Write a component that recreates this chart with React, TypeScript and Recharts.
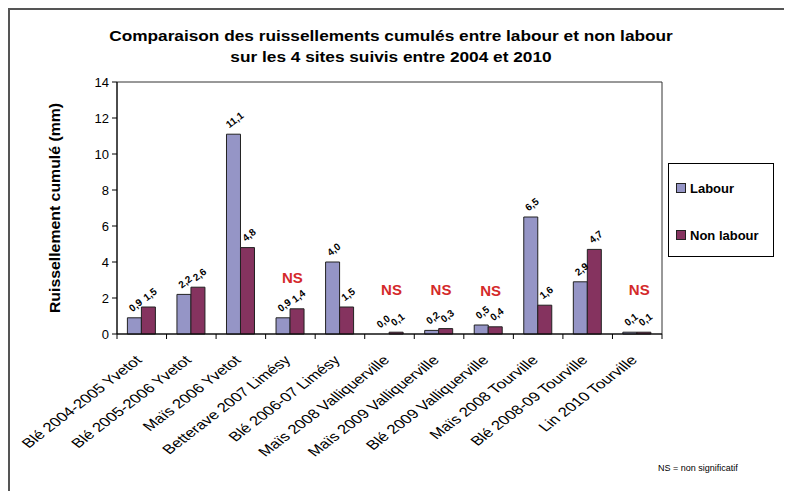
import { ComposedChart, Bar, Line, XAxis, YAxis, Legend, LabelList, ReferenceArea } from "recharts";

const FONT = "'Liberation Sans', Arial, sans-serif";

const categories = [
  "Blé 2004-2005 Yvetot",
  "Blé 2005-2006 Yvetot",
  "Maïs 2006 Yvetot",
  "Betterave 2007 Limésy",
  "Blé 2006-07 Limésy",
  "Maïs 2008 Valliquerville",
  "Maïs 2009 Valliquerville",
  "Blé 2009 Valliquerville",
  "Maïs 2008 Tourville",
  "Blé 2008-09 Tourville",
  "Lin 2010 Tourville",
];
const labour = [0.9, 2.2, 11.1, 0.9, 4.0, 0.0, 0.2, 0.5, 6.5, 2.9, 0.1];
const nonLabour = [1.5, 2.6, 4.8, 1.4, 1.5, 0.1, 0.3, 0.4, 1.6, 4.7, 0.1];
// height where the "NS" mark sits (null = no mark)
const nsLevel = [null, null, null, 3.15, null, 2.45, 2.45, 2.4, null, null, 2.45];
const yTicks = [0, 2, 4, 6, 8, 10, 12, 14];

const data = categories.map((name, i) => ({
  name,
  labour: labour[i],
  nonLabour: nonLabour[i],
  ns: nsLevel[i],
}));

const W = 784;
const H = 483;
const MARGIN = { top: 74, right: 130, left: 59, bottom: 7 };
const Y_W = 50;
const PLOT_W = W - MARGIN.left - MARGIN.right - Y_W;
const BAND = PLOT_W / categories.length;
const GAP = 0.21;
const BAR_W = (BAND * (1 - 2 * GAP)) / 2;

// value labels drawn from hidden lines so a 0,0 bar still gets its label
const makeValueLabel = (shift: number) => (props: any) => {
  const { x, y, value } = props;
  if (value == null || y == null) return null;
  const txt = Number(value).toFixed(1).replace(".", ",");
  const cx = x + shift + 1;
  const w = txt.length * 5.6;
  const cy = y - 4 - (w * 0.6 + 9 * 0.8) / 2;
  return (
    <text
      x={cx}
      y={cy}
      textAnchor="middle"
      dominantBaseline="central"
      transform={`rotate(-38, ${cx}, ${cy})`}
      fontSize={10}
      fontWeight="bold"
      fill="#000"
      fontFamily={FONT}
    >
      {txt}
    </text>
  );
};
const LabourLabel = makeValueLabel(-BAR_W / 2);
const NonLabourLabel = makeValueLabel(BAR_W / 2);

const NsLabel = (props: any) => {
  const { x, y, value } = props;
  if (value == null || y == null) return null;
  return (
    <text
      x={x + 2}
      y={y}
      textAnchor="middle"
      dominantBaseline="central"
      fontSize={15}
      fontWeight="bold"
      fill="#d42a2a"
      fontFamily={FONT}
    >
      NS
    </text>
  );
};

const CategoryTick = (props: any) => {
  const { x, y, payload, index } = props;
  const tx = x + 1;
  const ty = y + 27;
  return (
    <g>
      {index === 0 && <line x1={x - BAND / 2} y1={y} x2={x - BAND / 2} y2={y + 5} stroke="#000" />}
      <line x1={x + BAND / 2} y1={y} x2={x + BAND / 2} y2={y + 5} stroke="#000" />
      <text
        x={0}
        y={0}
        textAnchor="end"
        transform={`translate(${tx}, ${ty}) scale(1.3, 1) rotate(-45)`}
        fontSize={13}
        fill="#000"
        fontFamily={FONT}
      >
        {payload.value}
      </text>
    </g>
  );
};

const renderLegend = (props: any) => {
  const items = (props.payload || []).filter((p: any) => (p.dataKey === "labour" || p.dataKey === "nonLabour") && p.type !== "line" && p.type !== "none");
  return (
    <div
      style={{
        width: 106,
        height: 94,
        boxSizing: "border-box",
        border: "1px solid #000",
        background: "#fff",
        fontFamily: FONT,
        fontWeight: "bold",
        fontSize: 13,
        paddingTop: 16,
        paddingLeft: 7,
        textAlign: "left",
      }}
    >
      {items.map((p: any, i: number) => (
        <div key={p.value} style={{ display: "flex", alignItems: "center", height: 16, marginBottom: i === 0 ? 31 : 0 }}>
          <span
            style={{
              display: "inline-block",
              width: 8,
              height: 8,
              background: p.color,
              border: "1px solid #222",
              marginRight: 4,
            }}
          />
          <span>{p.value}</span>
        </div>
      ))}
    </div>
  );
};

export default function App() {
  return (
    <div style={{ position: "relative", width: W, height: H, fontFamily: FONT, background: "#fff" }}>
      <div style={{ position: "absolute", left: 0, top: 0, width: W, height: H, borderLeft: "2px solid #555", borderTop: "2px solid #555", boxSizing: "border-box" }} />
      <div
        style={{
          position: "absolute",
          left: 0,
          top: 17,
          width: 766,
          textAlign: "center",
          fontWeight: "bold",
          fontSize: 15,
          lineHeight: "21px",
          transform: "scaleX(1.15)",
          transformOrigin: "383px 0",
        }}
      >
        Comparaison des ruissellements cumulés entre labour et non labour
        <br />
        sur les 4 sites suivis entre 2004 et 2010
      </div>
      <div
        style={{
          position: "absolute",
          left: 47,
          top: 200,
          transform: "translate(-50%, -50%) rotate(-90deg) scaleX(1.13)",
          whiteSpace: "nowrap",
          fontWeight: "bold",
          fontSize: 14,
        }}
      >
        Ruissellement cumulé (mm)
      </div>
      <div style={{ position: "absolute", left: 650, top: 455, fontSize: 9 }}>NS = non significatif</div>
      <ComposedChart
        width={W}
        height={H}
        data={data}
        margin={MARGIN}
        barCategoryGap={`${GAP * 100}%`}
        barGap={0}
        style={{ position: "absolute", left: 0, top: 0, overflow: "visible" }}
      >
        <ReferenceArea y1={0} y2={14} fill="none" stroke="#333" strokeWidth={1} ifOverflow="visible" />
        <XAxis
          dataKey="name"
          interval={0}
          height={150}
          tickLine={false}
          tickSize={0}
          tickMargin={0}
          axisLine={{ stroke: "#000" }}
          tick={<CategoryTick />}
        />
        <YAxis
          width={Y_W}
          domain={[0, 14]}
          ticks={yTicks}
          tickSize={5}
          tickMargin={3}
          axisLine={{ stroke: "#000" }}
          tickLine={{ stroke: "#000" }}
          tick={{ fontSize: 13, fill: "#000", fontFamily: FONT }}
        />
        <Legend
          layout="horizontal"
          verticalAlign="middle"
          align="center"
          content={renderLegend}
          wrapperStyle={{ position: "absolute", left: 660, top: 155, width: 106, height: 94 }}
        />
        <Bar dataKey="labour" name="Labour" fill="#9595c6" stroke="#222" strokeWidth={1} isAnimationActive={false} />
        <Bar dataKey="nonLabour" name="Non labour" fill="#85335f" stroke="#222" strokeWidth={1} isAnimationActive={false} />
        <Line dataKey="labour" stroke="none" dot={false} activeDot={false} legendType="none" isAnimationActive={false}>
          <LabelList dataKey="labour" content={<LabourLabel />} />
        </Line>
        <Line dataKey="nonLabour" stroke="none" dot={false} activeDot={false} legendType="none" isAnimationActive={false}>
          <LabelList dataKey="nonLabour" content={<NonLabourLabel />} />
        </Line>
        <Line dataKey="ns" stroke="none" dot={false} activeDot={false} legendType="none" isAnimationActive={false}>
          <LabelList dataKey="ns" content={<NsLabel />} />
        </Line>
      </ComposedChart>
    </div>
  );
}
